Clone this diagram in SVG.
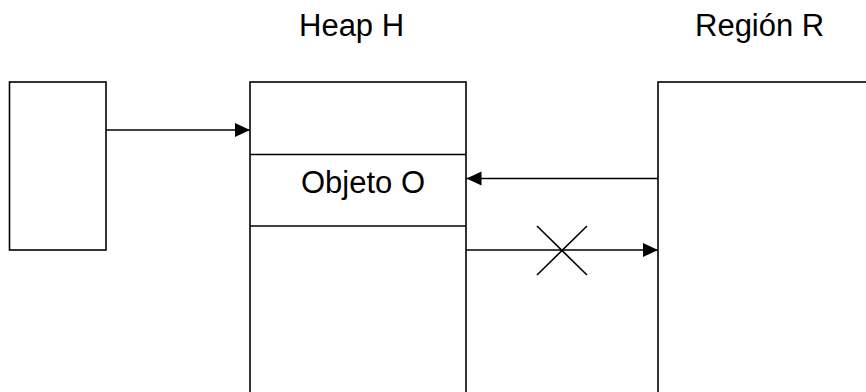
<svg xmlns="http://www.w3.org/2000/svg" width="866" height="392" viewBox="0 0 866 392">
<style>
.box{fill:#fff;stroke:#000;stroke-width:1.6}
.ln{stroke:#000;stroke-width:1.6;fill:none}
.lbl{font-family:"Liberation Sans",Arial,sans-serif;font-size:31px;fill:#000}
</style>
<defs>
<marker id="ah" markerUnits="userSpaceOnUse" markerWidth="16" markerHeight="16" refX="15" refY="7" orient="auto">
<path d="M0,0 L15,7 L0,14 Z" fill="#000"/>
</marker>
</defs>
<rect width="866" height="392" fill="#fff"/>
<g id="ref-box">
<rect class="box" x="9.5" y="82" width="96.5" height="168"/>
</g>
<g id="heap-h">
<rect class="box" x="250" y="82" width="216" height="330"/>
<line class="ln" x1="250" y1="154.5" x2="466" y2="154.5"/>
<line class="ln" x1="250" y1="226" x2="466" y2="226"/>
<text class="lbl" x="299" y="36">Heap H</text>
</g>
<g id="objeto-o">
<text class="lbl" x="301" y="193">Objeto O</text>
</g>
<g id="region-r">
<rect class="box" x="658" y="82" width="230" height="330"/>
<text class="lbl" x="695" y="36">Región R</text>
</g>
<g id="connectors">
<line class="ln" x1="106" y1="130" x2="250" y2="130" marker-end="url(#ah)"/>
<line class="ln" x1="658" y1="178.5" x2="466.5" y2="178.5" marker-end="url(#ah)"/>
<line class="ln" x1="466" y1="250" x2="658" y2="250" marker-end="url(#ah)"/>
<line class="ln" x1="537" y1="226" x2="587" y2="275"/>
<line class="ln" x1="587" y1="226" x2="537" y2="275"/>
</g>
</svg>
